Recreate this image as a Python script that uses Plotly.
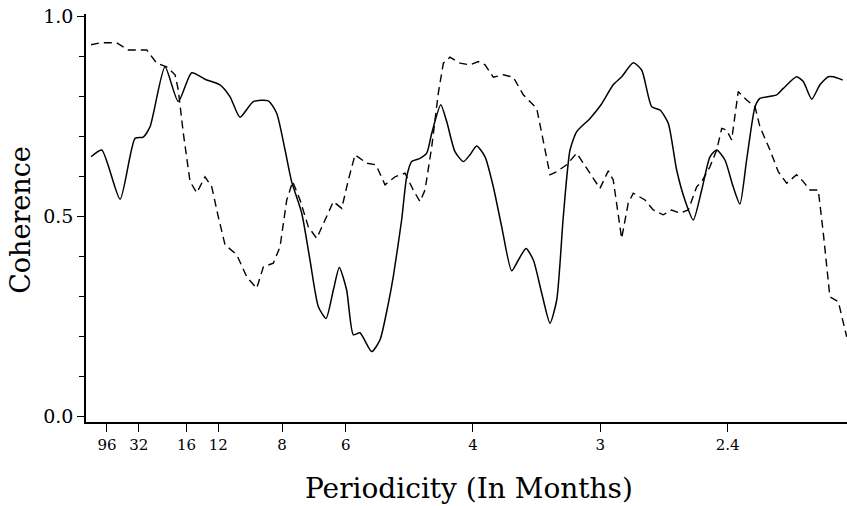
import plotly.graph_objects as go

# Frequency (cycles per month) and coherence values
solid_freq = [0.000, 0.0070, 0.0190, 0.0288, 0.0342, 0.0386, 0.0484, 0.0571, 0.0659, 0.0746,
              0.0844, 0.0910, 0.0975, 0.1062, 0.1160, 0.1215, 0.1270, 0.1313, 0.1379, 0.1433,
              0.1488, 0.1538, 0.1586, 0.1625, 0.1673, 0.1717, 0.1760, 0.1837, 0.1891, 0.1944,
              0.1978, 0.2033, 0.2066, 0.2099, 0.2153, 0.2197, 0.2230, 0.2289, 0.2328, 0.2382,
              0.2437, 0.2480, 0.2524, 0.2579, 0.2633, 0.2688, 0.2753, 0.2797, 0.2847, 0.2895,
              0.2950, 0.3004, 0.3048, 0.3091, 0.3135, 0.3179, 0.3266, 0.3338, 0.3418, 0.3473,
              0.3549, 0.3604, 0.3670, 0.3724, 0.3778, 0.3833, 0.3887, 0.3942, 0.3997, 0.4051,
              0.4095, 0.4149, 0.4203, 0.4247, 0.4291, 0.4346, 0.4378, 0.4488, 0.4531, 0.4618,
              0.4662, 0.4717, 0.4771, 0.4825, 0.4858, 0.4919]
solid_coh = [0.648, 0.665, 0.542, 0.694, 0.697, 0.723, 0.873, 0.786, 0.858, 0.842,
             0.828, 0.798, 0.747, 0.786, 0.788, 0.757, 0.665, 0.586, 0.507, 0.390,
             0.273, 0.244, 0.315, 0.371, 0.315, 0.203, 0.208, 0.161, 0.190, 0.278,
             0.348, 0.490, 0.598, 0.636, 0.644, 0.657, 0.707, 0.778, 0.736, 0.661,
             0.636, 0.653, 0.675, 0.648, 0.573, 0.473, 0.363, 0.390, 0.419, 0.390,
             0.307, 0.232, 0.290, 0.498, 0.665, 0.711, 0.744, 0.778, 0.828, 0.848,
             0.883, 0.865, 0.773, 0.765, 0.732, 0.615, 0.540, 0.490, 0.565, 0.648,
             0.665, 0.640, 0.573, 0.530, 0.640, 0.773, 0.794, 0.803, 0.819, 0.848,
             0.836, 0.792, 0.828, 0.848, 0.848, 0.840]

dash_freq = [0.000, 0.0059, 0.0168, 0.0244, 0.0365, 0.0430, 0.0495, 0.0550, 0.0571, 0.0604,
             0.0648, 0.0692, 0.0746, 0.0790, 0.0833, 0.0877, 0.0954, 0.1019, 0.1084, 0.1128,
             0.1193, 0.1237, 0.1281, 0.1320, 0.1368, 0.1422, 0.1477, 0.1543, 0.1586, 0.1641,
             0.1684, 0.1728, 0.1804, 0.1865, 0.1924, 0.1990, 0.2055, 0.2109, 0.2153, 0.2186,
             0.2230, 0.2273, 0.2306, 0.2349, 0.2415, 0.2480, 0.2535, 0.2579, 0.2633, 0.2698,
             0.2764, 0.2829, 0.2917, 0.2950, 0.2982, 0.3004, 0.3048, 0.3113, 0.3179, 0.3244,
             0.3331, 0.3386, 0.3418, 0.3473, 0.3516, 0.3549, 0.3626, 0.3680, 0.3745, 0.3800,
             0.3855, 0.3909, 0.3964, 0.3997, 0.4051, 0.4095, 0.4128, 0.4160, 0.4193, 0.4236,
             0.4291, 0.4346, 0.4378, 0.4444, 0.4498, 0.4553, 0.4618, 0.4662, 0.4705, 0.4760,
             0.4793, 0.4836, 0.4891, 0.4946]
dash_coh = [0.928, 0.933, 0.933, 0.915, 0.915, 0.882, 0.873, 0.853, 0.815, 0.707,
            0.586, 0.558, 0.598, 0.573, 0.498, 0.428, 0.403, 0.348, 0.319, 0.373,
            0.382, 0.423, 0.540, 0.586, 0.540, 0.473, 0.444, 0.498, 0.536, 0.519,
            0.590, 0.653, 0.632, 0.628, 0.578, 0.598, 0.607, 0.565, 0.536, 0.565,
            0.673, 0.807, 0.882, 0.897, 0.882, 0.878, 0.886, 0.878, 0.847, 0.853,
            0.847, 0.803, 0.769, 0.707, 0.648, 0.603, 0.611, 0.628, 0.657, 0.619,
            0.569, 0.613, 0.590, 0.444, 0.532, 0.557, 0.540, 0.515, 0.503, 0.515,
            0.507, 0.515, 0.573, 0.586, 0.623, 0.665, 0.719, 0.715, 0.690, 0.811,
            0.790, 0.773, 0.723, 0.665, 0.611, 0.582, 0.603, 0.586, 0.565, 0.565,
            0.457, 0.298, 0.286, 0.198]

period_labels = ["96", "32", "16", "12", "8", "6", "4", "3", "2.4"]
periods = [96, 32, 16, 12, 8, 6, 4, 3, 2.4]
tick_freqs = [1.0 / p for p in periods]

font_family = "DejaVu Serif"

fig = go.Figure()
fig.add_trace(go.Scatter(x=solid_freq, y=solid_coh, mode="lines",
                         line=dict(color="black", width=1.5, shape="spline", smoothing=0.6),
                         showlegend=False))
fig.add_trace(go.Scatter(x=dash_freq, y=dash_coh, mode="lines",
                         line=dict(color="black", width=1.4, dash="8px,5px"),
                         showlegend=False))

fig.update_layout(
    width=847, height=506,
    margin=dict(l=86, r=0, t=14, b=84),
    paper_bgcolor="white", plot_bgcolor="white",
    font=dict(family=font_family, color="black"),
    xaxis=dict(range=[-0.0033, 0.4948], showgrid=False, zeroline=False,
               showline=True, linecolor="black", linewidth=1.5,
               tickmode="array", tickvals=tick_freqs, ticktext=period_labels,
               ticks="outside", ticklen=8, tickwidth=1.2, tickcolor="black",
               tickfont=dict(family=font_family, size=15, color="black")),
    yaxis=dict(range=[-0.015, 1.005], showgrid=False, zeroline=False,
               showline=True, linecolor="black", linewidth=1.5,
               tick0=0, dtick=0.5, tickformat=".1f",
               ticks="outside", ticklen=7, tickwidth=1.2, tickcolor="black",
               tickfont=dict(family=font_family, size=19, color="black"),
               minor=dict(dtick=0.1, tick0=0, ticks="outside", ticklen=5,
                          tickwidth=1, tickcolor="black")),
    annotations=[
        dict(text="Periodicity (In Months)", xref="paper", yref="paper",
             x=0.503, y=-0.162, xanchor="center", yanchor="middle", showarrow=False,
             font=dict(family=font_family, size=28, color="black")),
        dict(text="Coherence", xref="paper", yref="paper",
             x=-0.087, y=0.495, xanchor="center", yanchor="middle", showarrow=False,
             textangle=-90, font=dict(family=font_family, size=27, color="black")),
    ],
)

fig.write_html("out.html", config={"displayModeBar": False},
               post_script="document.body.style.margin='0';document.body.style.overflow='hidden';")
